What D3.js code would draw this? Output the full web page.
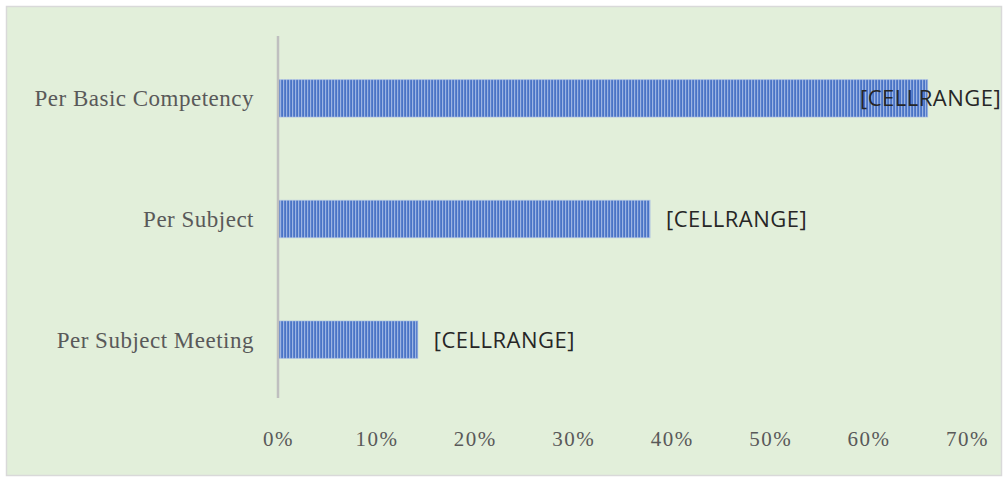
<!DOCTYPE html>
<html>
<head>
<meta charset="utf-8">
<script src="https://cdn.jsdelivr.net/npm/d3@7"></script>
<style>
  html, body { margin: 0; padding: 0; background: #fff; }
  svg { display: block; }
</style>
</head>
<body>
<svg id="chart" width="1003" height="478"></svg>
<script>
// data
const categories = ["Per Basic Competency", "Per Subject", "Per Subject Meeting"];
const values = [0.66, 0.378, 0.142];
const labels = ["[CELLRANGE]", "[CELLRANGE]", "[CELLRANGE]"];
const ticks = [0, 0.1, 0.2, 0.3, 0.4, 0.5, 0.6, 0.7];

const width = 1003, height = 478;
const margin = {top: 38, right: 36, bottom: 120, left: 278};

const svg = d3.select("#chart");

// chart area background + frame
svg.append("rect")
  .attr("x", 6.5).attr("y", 6.5)
  .attr("width", width - 8).attr("height", height - 9)
  .attr("fill", "#e2efda")
  .attr("stroke", "#d9d9d9")
  .attr("stroke-width", 1.5);

// vertical stripe fill like the original
const defs = svg.append("defs");
const pat = defs.append("pattern")
  .attr("id", "stripes")
  .attr("patternUnits", "userSpaceOnUse")
  .attr("width", 3).attr("height", 10);
pat.append("rect").attr("width", 3).attr("height", 10).attr("fill", "#4a74c6");
pat.append("rect").attr("x", 1).attr("width", 1.2).attr("height", 10).attr("fill", "#9db5e3");

const x = d3.scaleLinear()
  .domain([0, 0.7])
  .range([margin.left, 967]);

const y = d3.scaleBand()
  .domain(categories)
  .range([margin.top, 400])
  .paddingInner(0.69)
  .paddingOuter(0.345);

// bars
svg.selectAll(".bar")
  .data(values)
  .join("rect")
  .attr("class", "bar")
  .attr("x", x(0) + 1)
  .attr("y", (d, i) => y(categories[i]))
  .attr("width", d => x(d) - x(0) - 1)
  .attr("height", y.bandwidth())
  .attr("fill", "url(#stripes)")
  .attr("stroke", "#a9bde6")
  .attr("stroke-opacity", 0.6)
  .attr("stroke-width", 1);

// value axis line
svg.append("line")
  .attr("x1", x(0)).attr("x2", x(0))
  .attr("y1", 36).attr("y2", 398)
  .attr("stroke", "#bfbfbf")
  .attr("stroke-width", 2.5);

// category labels
svg.selectAll(".cat")
  .data(categories)
  .join("text")
  .attr("class", "cat")
  .attr("x", 254)
  .attr("y", d => y(d) + y.bandwidth() / 2)
  .attr("dy", "0.35em")
  .attr("text-anchor", "end")
  .attr("font-family", "'Liberation Serif', 'Times New Roman', serif")
  .attr("font-size", "23px")
  .attr("letter-spacing", "0.5px")
  .attr("fill", "#595959")
  .text(d => d);

// x axis tick labels
const xAxis = d3.axisBottom(x)
  .tickValues(ticks)
  .tickFormat(d3.format(".0%"))
  .tickSize(0)
  .tickPadding(0);

const gx = svg.append("g")
  .attr("transform", "translate(0,431)")
  .call(xAxis);
gx.select(".domain").remove();
gx.selectAll("text")
  .attr("font-family", "'Liberation Serif', 'Times New Roman', serif")
  .attr("font-size", "21px")
  .attr("fill", "#595959")
  .attr("letter-spacing", "1.5px");

// data labels
svg.selectAll(".lbl")
  .data(values)
  .join("text")
  .attr("class", "lbl")
  .attr("x", d => Math.min(x(d) + 16, 860))
  .attr("y", (d, i) => y(categories[i]) + y.bandwidth() / 2)
  .attr("dy", "0.36em")
  .attr("font-family", "'Open Sans', 'DejaVu Sans', sans-serif")
  .attr("font-size", "22px")
  .attr("letter-spacing", "0.5px")
  .attr("fill", "#262626")
  .text((d, i) => labels[i]);
</script>
</body>
</html>
